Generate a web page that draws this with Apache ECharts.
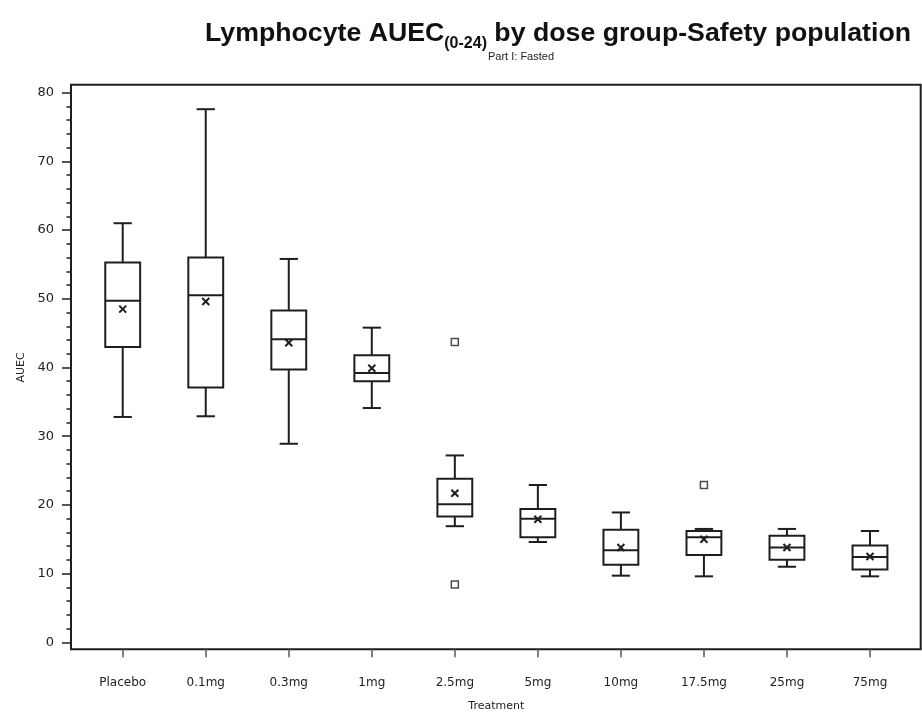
<!DOCTYPE html>
<html>
<head>
<meta charset="utf-8">
<script src="https://cdn.jsdelivr.net/npm/echarts@6/dist/echarts.min.js"></script>
<style>html,body{margin:0;padding:0;background:#fff;}#c{width:922px;height:715px;}</style>
</head>
<body>
<div id="c"></div>
<script>
const categories = ['Placebo', '0.1mg', '0.3mg', '1mg', '2.5mg', '5mg', '10mg', '17.5mg', '25mg', '75mg'];
const whiskerLow  = [32.8, 32.9, 28.9, 34.1, 16.9, 14.6, 9.7, 9.6, 11.0, 9.6];
const q1          = [43.0, 37.1, 39.7, 38.0, 18.3, 15.3, 11.3, 12.7, 12.0, 10.6];
const median      = [49.7, 50.5, 44.1, 39.2, 20.1, 18.0, 13.4, 15.3, 13.8, 12.4];
const q3          = [55.3, 56.0, 48.3, 41.8, 23.8, 19.4, 16.4, 16.2, 15.5, 14.1];
const whiskerHigh = [61.0, 77.6, 55.8, 45.8, 27.2, 22.9, 18.9, 16.5, 16.5, 16.2];
const means       = [48.5, 49.6, 43.6, 39.9, 21.7, 17.9, 13.8, 15.0, 13.8, 12.5];
const outlierCats = ['2.5mg', '2.5mg', '17.5mg'];
const outlierVals = [43.7, 8.4, 22.9];
const yTicks = [0, 10, 20, 30, 40, 50, 60, 70, 80];

const boxData = categories.map((c, i) => [i, whiskerLow[i], q1[i], median[i], q3[i], whiskerHigh[i], means[i]]);
const outlierData = outlierCats.map((c, i) => [categories.indexOf(c), outlierVals[i]]);

const ink = '#1e1e1e';
const FONT = 'DejaVu Sans';

function renderBox(params, api) {
  const i = api.value(0);
  const band = api.size([1, 0])[0];
  const bw = band * 0.42;
  const cw = band * 0.11;
  const pMin = api.coord([i, api.value(1)]);
  const pQ1 = api.coord([i, api.value(2)]);
  const pMed = api.coord([i, api.value(3)]);
  const pQ3 = api.coord([i, api.value(4)]);
  const pMax = api.coord([i, api.value(5)]);
  const pMean = api.coord([i, api.value(6)]);
  const cx = pMed[0];
  const st = { stroke: ink, lineWidth: 2, fill: null };
  const m = 3.5;
  return {
    type: 'group',
    children: [
      { type: 'line', shape: { x1: cx, y1: pQ3[1], x2: cx, y2: pMax[1] }, style: st },
      { type: 'line', shape: { x1: cx, y1: pQ1[1], x2: cx, y2: pMin[1] }, style: st },
      { type: 'line', shape: { x1: cx - cw, y1: pMax[1], x2: cx + cw, y2: pMax[1] }, style: st },
      { type: 'line', shape: { x1: cx - cw, y1: pMin[1], x2: cx + cw, y2: pMin[1] }, style: st },
      { type: 'rect', shape: { x: cx - bw / 2, y: pQ3[1], width: bw, height: pQ1[1] - pQ3[1] }, style: { stroke: ink, lineWidth: 2, fill: '#fff' } },
      { type: 'line', shape: { x1: cx - bw / 2, y1: pMed[1], x2: cx + bw / 2, y2: pMed[1] }, style: st },
      { type: 'line', shape: { x1: cx - m, y1: pMean[1] - m, x2: cx + m, y2: pMean[1] + m }, style: st },
      { type: 'line', shape: { x1: cx - m, y1: pMean[1] + m, x2: cx + m, y2: pMean[1] - m }, style: st }
    ]
  };
}

const chart = echarts.init(document.getElementById('c'), null, { renderer: 'canvas' });
chart.setOption({
  animation: false,
  backgroundColor: '#fff',
  title: [
    {
      text: '{a|Lymphocyte AUEC}{s|(0-24)}{a| by dose group-Safety population}',
      right: 6, top: 8,
      textStyle: {
        rich: {
          a: { fontFamily: 'Liberation Sans', fontWeight: 'bold', fontSize: 26.7, color: '#111', verticalAlign: 'bottom', lineHeight: 34 },
          s: { fontFamily: 'Liberation Sans', fontWeight: 'bold', fontSize: 16, color: '#111', verticalAlign: 'bottom', lineHeight: 26, padding: [0, 0, -5, 0] }
        }
      }
    },
    {
      text: 'Part I: Fasted',
      left: 483, top: 46,
      textStyle: { fontFamily: 'Liberation Sans', fontWeight: 'normal', fontSize: 11, color: '#222' }
    }
  ],
  grid: [
    { left: 81.2, right: 10.5, top: 92.7, bottom: 72.7, show: false, containLabel: false, outerBoundsMode: 'none' },
    { left: 71, right: 1.3, top: 84.7, bottom: 65.7, show: true, borderColor: '#1e1e1e', borderWidth: 2, backgroundColor: 'transparent', containLabel: false, outerBoundsMode: 'none' },
    { left: 81.2, right: 10.5, top: 84.7, bottom: 65.7, show: false, containLabel: false, outerBoundsMode: 'none' }
  ],
  xAxis: [
    { type: 'category', gridIndex: 0, data: categories, boundaryGap: true, show: false },
    { type: 'value', gridIndex: 1, show: false, min: 0, max: 1 },
    {
      type: 'category', gridIndex: 2, data: categories, boundaryGap: true, position: 'bottom',
      name: 'Treatment', nameLocation: 'middle', nameGap: 51,
      nameTextStyle: { fontFamily: FONT, fontSize: 11, color: '#222' },
      axisLine: { show: false },
      axisTick: { show: true, inside: false, alignWithLabel: true, length: 8, lineStyle: { color: '#555', width: 1.5 } },
      axisLabel: { margin: 28, fontFamily: FONT, fontSize: 12, color: '#222' },
      splitLine: { show: false }
    }
  ],
  yAxis: [
    {
      type: 'value', gridIndex: 0, min: yTicks[0], max: yTicks[yTicks.length - 1], interval: 10, offset: 10.2,
      name: 'AUEC', nameLocation: 'middle', nameGap: 40, nameRotate: 90,
      nameTextStyle: { fontFamily: FONT, fontSize: 11, color: '#222' },
      axisLine: { show: false },
      axisTick: { show: true, length: 9, lineStyle: { color: ink, width: 1.5 } },
      minorTick: { show: true, splitNumber: 5, length: 4.5, lineStyle: { color: ink, width: 1.5 } },
      axisLabel: { margin: 17, fontFamily: FONT, fontSize: 13, color: '#222' },
      splitLine: { show: false }
    },
    { type: 'value', gridIndex: 1, show: false, min: 0, max: 1 },
    { type: 'value', gridIndex: 2, show: false, min: 0, max: 1 }
  ],
  series: [
    {
      type: 'custom', xAxisIndex: 0, yAxisIndex: 0,
      renderItem: renderBox,
      encode: { x: 0, y: [1, 2, 3, 4, 5, 6] },
      data: boxData,
      z: 3
    },
    {
      type: 'scatter', xAxisIndex: 0, yAxisIndex: 0,
      symbol: 'rect', symbolSize: 7,
      itemStyle: { color: '#fff', borderColor: ink, borderWidth: 1.5 },
      data: outlierData,
      z: 4
    }
  ]
});
</script>
</body>
</html>
